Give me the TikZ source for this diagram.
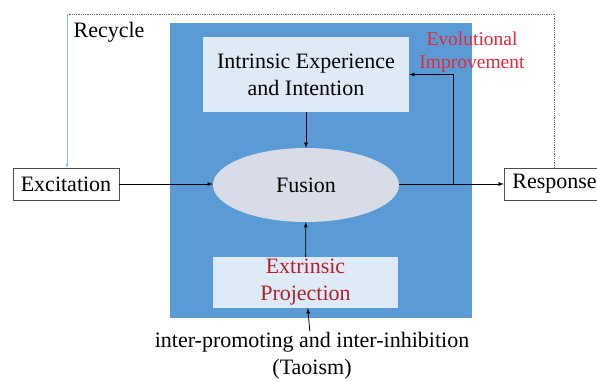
\documentclass[tikz,border=0pt]{standalone}
\usepackage{fontspec}
\setmainfont{Liberation Serif}
\usetikzlibrary{shapes.geometric}
\definecolor{backblue}{HTML}{5B9BD5}
\definecolor{paleblue}{HTML}{DEEBF7}
\definecolor{fusegray}{HTML}{D8DCE6}
\definecolor{darkred}{HTML}{B0202C}
\definecolor{brightred}{HTML}{E5283A}
\tikzset{
    boxnode/.style={fill=paleblue,align=center,inner sep=0pt},
    framenode/.style={draw=black!70,fill=white,inner sep=0pt,minimum height=32pt}
}
\begin{document}
\begin{tikzpicture}[>=latex,x=1pt,y=-1pt,font=\fontsize{22}{27}\selectfont]
    \useasboundingbox(0,0) rectangle (597,381);
    \fill[backblue](170,23) rectangle (472,318);
    \node[boxnode,minimum width=206pt,minimum height=75pt](intr) at (306,74.5){Intrinsic Experience\\and Intention};
    \node[ellipse,fill=fusegray,minimum width=186pt,minimum height=74pt,inner sep=0pt](fusion) at (306,185){Fusion};
    \node[boxnode,minimum width=185pt,minimum height=51pt,text=darkred](extr) at (305.5,282.5){Extrinsic\\Projection};
    \node[framenode,minimum width=106pt](excit) at (66,184){Excitation};
    \node[framenode,minimum width=101pt](resp) at (554.5,184){Response};
    \node[align=center,inner sep=1pt](tao) at (312,356){inter-promoting and inter-inhibition\\(Taoism)};
    \node(recy) at (109,32){Recycle};
    \node[align=center,text=brightred,font=\fontsize{19.5}{23}\selectfont](evol) at (472,52){Evolutional\\Improvement};
    \coordinate(br) at (453,184);
    \coordinate(ltop) at (67,14);
    \coordinate(rtop) at (554.5,14);
\draw[->,line width=.8pt](excit)--(fusion.west|-excit);
\draw[->,line width=.8pt](fusion.east|-excit)--(resp);
\draw[->,line width=.8pt](br)|-(intr.east);
\draw[->,line width=.8pt](intr)--(fusion);
\draw[->,line width=.8pt](extr)--(fusion);
\draw[->,line width=.8pt](tao)--(extr);
\draw[densely dotted,black!55,thick](resp.north)--(rtop)--(ltop);
\draw[->,backblue!70](ltop)--(excit.north-|ltop);
\end{tikzpicture}
\end{document}
